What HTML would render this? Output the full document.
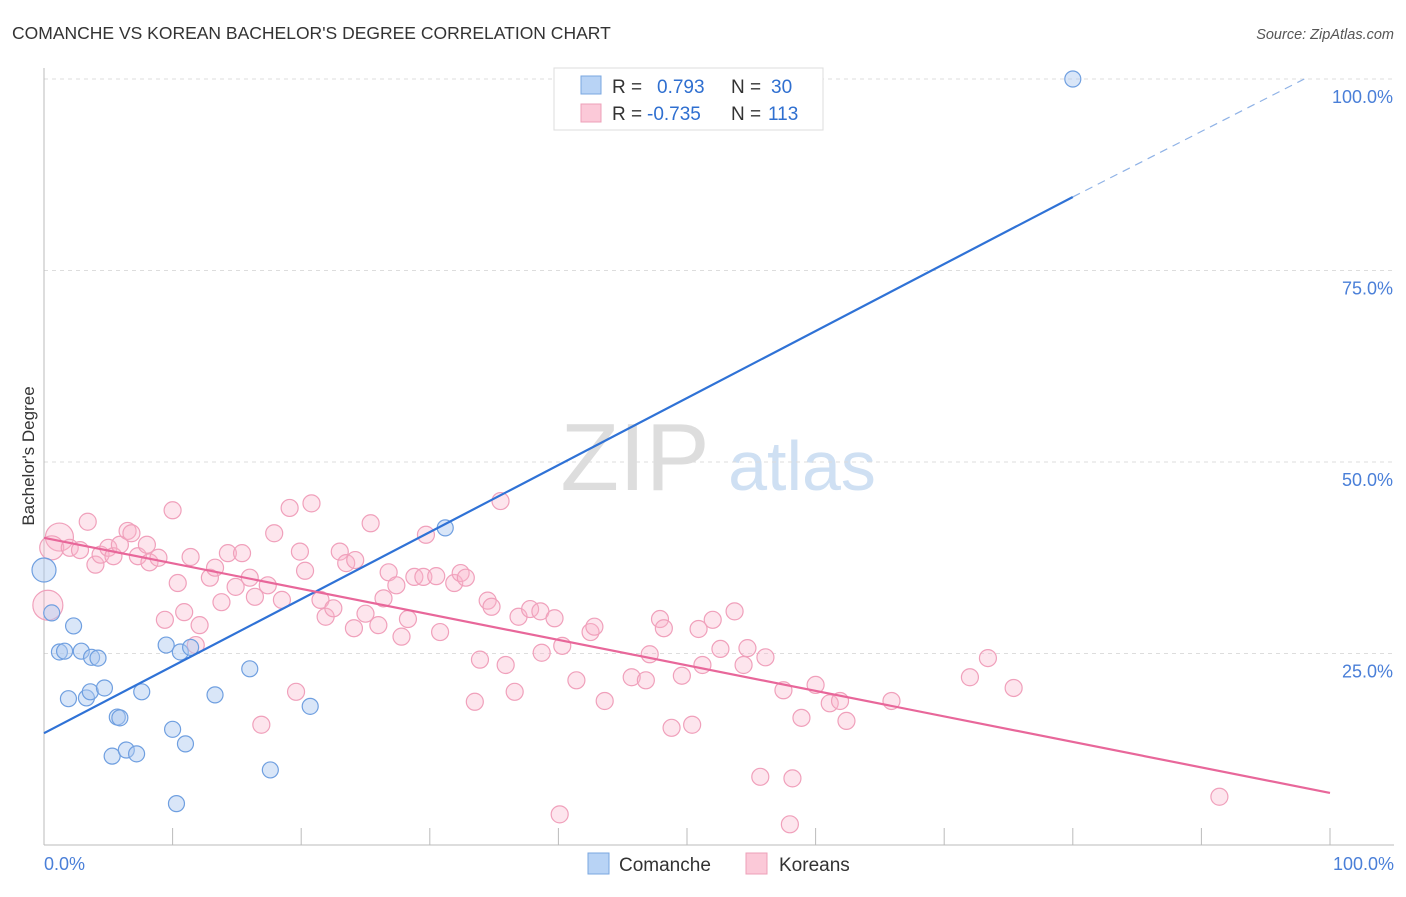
<!DOCTYPE html>
<html><head><meta charset="utf-8"><style>
body{margin:0;background:#fff;font-family:"Liberation Sans",sans-serif;}
svg text{font-family:"Liberation Sans",sans-serif;}
</style></head><body>
<svg id="chart" width="1406" height="892">
<text x="12" y="39" font-size="17.5" fill="#333">COMANCHE VS KOREAN BACHELOR'S DEGREE CORRELATION CHART</text>
<text x="1394" y="39" font-size="14.5" fill="#555" font-style="italic" text-anchor="end">Source: ZipAtlas.com</text>
<g>
<text x="635" y="490" font-size="96" fill="#ddd" font-family="Liberation Serif" text-anchor="middle">ZIP</text>
<text x="802" y="490" font-size="70" fill="#cfe0f3" text-anchor="middle">atlas</text>
</g>
<g id="grid"></g>
<g id="axes"></g>
<g id="marks"></g>
<text transform="translate(34,456) rotate(-90)" font-size="17" fill="#333" text-anchor="middle">Bachelor's Degree</text>
<g>
<rect x="554" y="68" width="269" height="62" fill="#fff" stroke="#ddd"/>
<rect x="581" y="76" width="20" height="18" fill="#b8d3f5" stroke="#7aa7e0"/>
<rect x="581" y="104" width="20" height="18" fill="#fbc9d8" stroke="#eea0b8"/>
<text x="612" y="93" font-size="19" fill="#333">R = <tspan fill="#2f6fd0" x="657">0.793</tspan><tspan fill="#333" x="731">N = </tspan><tspan fill="#2f6fd0" x="771">30</tspan></text>
<text x="612" y="120" font-size="19" fill="#333">R = <tspan fill="#2f6fd0" x="647">-0.735</tspan><tspan fill="#333" x="731">N = </tspan><tspan fill="#2f6fd0" x="768">113</tspan></text>
</g>
<g>
<rect x="588" y="853" width="21" height="21" fill="#b8d3f5" stroke="#7aa7e0"/>
<text x="619" y="871" font-size="19" fill="#333">Comanche</text>
<rect x="746" y="853" width="21" height="21" fill="#fbc9d8" stroke="#eea0b8"/>
<text x="779" y="871" font-size="19" fill="#333">Koreans</text>
</g>
</svg>
<script>
const yTicks=[0,25,50,75,100];
const yTickLabels=["","25.0%","50.0%","75.0%","100.0%"];
const xTicks=[0,10,20,30,40,50,60,70,80,90,100];
const blueX=[0,0.6,1.2,1.6,2.3,2.9,3.7,4.2,1.9,3.3,3.6,4.7,5.7,5.9,7.6,5.3,6.4,7.2,9.5,10.6,11.4,10.0,11.0,10.3,13.3,16.0,17.6,20.7,31.2,80.0];
const blueY=[35.9,30.3,25.2,25.3,28.6,25.3,24.5,24.4,19.1,19.2,20.0,20.5,16.7,16.6,20.0,11.6,12.4,11.9,26.1,25.2,25.8,15.1,13.2,5.4,19.6,23.0,9.8,18.1,41.4,100];
const blueR=[12,8,8,8,8,8,8,8,8,8,8,8,8,8,8,8,8,8,8,8,8,8,8,8,8,8,8,8,8,8];
const pinkX=[1.2,0.6,0.3,3.4,2.0,2.8,4.0,4.4,5.0,5.4,5.9,6.5,6.8,7.3,8.0,8.2,8.9,10.0,10.4,9.4,10.9,11.4,12.1,11.8,12.9,13.3,13.8,14.3,14.9,15.4,16.0,16.4,16.9,17.4,17.9,18.5,19.1,19.6,19.9,20.3,20.8,21.5,21.9,22.5,23.0,23.5,24.2,24.1,25.0,25.4,26.0,26.4,26.8,27.4,27.8,28.3,28.8,29.5,29.7,30.5,30.8,31.9,32.4,32.8,33.5,33.9,34.5,34.8,35.5,35.9,36.6,36.9,37.8,38.6,38.7,39.7,40.1,40.3,41.4,42.5,42.8,43.6,45.7,46.8,47.1,47.9,48.2,48.8,49.6,50.4,50.9,51.2,52.0,52.6,53.7,54.4,54.7,55.7,56.1,57.5,58.2,58.0,58.9,60.0,61.1,61.9,62.4,65.9,72.0,73.4,75.4,91.4];
const pinkY=[40.2,38.8,31.3,42.2,38.8,38.5,36.6,37.9,38.8,37.7,39.2,41.0,40.7,37.7,39.2,36.9,37.5,43.7,34.2,29.4,30.4,37.6,28.7,26.1,34.9,36.2,31.7,38.1,33.7,38.1,34.9,32.4,15.7,33.9,40.7,32.0,44.0,20.0,38.3,35.8,44.6,32.0,29.8,30.9,38.3,36.8,37.2,28.3,30.2,42.0,28.7,32.2,35.6,33.9,27.2,29.5,35.0,35.0,40.5,35.1,27.8,34.2,35.5,34.9,18.7,24.2,31.9,31.1,44.9,23.5,20.0,29.8,30.8,30.5,25.1,29.6,4.0,26.0,21.5,27.8,28.5,18.8,21.9,21.5,24.9,29.5,28.3,15.3,22.1,15.7,28.2,23.5,29.4,25.6,30.5,23.5,25.7,8.9,24.5,20.2,8.7,2.7,16.6,20.9,18.5,18.8,16.2,18.8,21.9,24.4,20.5,6.3];
const pinkBig=[14,12,15];
const blueLineX=[0,80];const blueLineY=[14.6,84.6];const blueDashX=[80,98];const blueDashY=[84.6,100];
const pinkLineX=[0,100];const pinkLineY=[40.1,6.8];
const X=v=>44+v*12.86, Y=v=>845-v*7.66;
const NS="http://www.w3.org/2000/svg";
function mk(tag,attrs,parent){const e=document.createElementNS(NS,tag);for(const k in attrs)e.setAttribute(k,attrs[k]);document.getElementById(parent).appendChild(e);return e;}
yTicks.forEach((t,i)=>{
 if(t>0){const g=mk('line',{x1:44,x2:1394,y1:Y(t),y2:Y(t),stroke:'#ddd','stroke-dasharray':'4,4'},'grid');
 
 
 const l=mk('text',{x:1393,y:Y(t)+24,'font-size':18,fill:'#4a7fd8','text-anchor':'end'},'axes');l.textContent=yTickLabels[i];
 
 }
});
const ax=mk('line',{x1:44,x2:44,y1:68,y2:845,stroke:'#bbb'},'axes');


const bx=mk('line',{x1:44,x2:1394,y1:845,y2:845,stroke:'#bbb'},'axes');


xTicks.forEach(t=>{const l=mk('line',{x1:X(t),x2:X(t),y1:828,y2:845,stroke:'#bbb'},'axes');
 
 });
[[0,"0.0%",'start',44],[100,"100.0%",'end',1394]].forEach(a=>{const l=mk('text',{x:a[3],y:870,'font-size':18,fill:'#4a7fd8','text-anchor':a[2]},'axes');l.textContent=a[1];
 
 });
pinkX.forEach((v,i)=>{const c=mk('circle',{cx:X(v),cy:Y(pinkY[i]),r:pinkBig[i]||8.5,fill:'rgba(248,180,202,0.35)',stroke:'#f0a0bb','stroke-width':1.2},'marks');
 
 });
blueX.forEach((v,i)=>{const c=mk('circle',{cx:X(v),cy:Y(blueY[i]),r:blueR[i],fill:'rgba(170,200,240,0.45)',stroke:'#6f9fe0','stroke-width':1.2},'marks');
 
 });
const bl=mk('line',{x1:X(blueLineX[0]),y1:Y(blueLineY[0]),x2:X(blueLineX[1]),y2:Y(blueLineY[1]),stroke:'#2f72d6','stroke-width':2.2},'marks');


const bd=mk('line',{x1:X(blueDashX[0]),y1:Y(blueDashY[0]),x2:X(blueDashX[1]),y2:Y(blueDashY[1]),stroke:'#8fb2e6','stroke-width':1.2,'stroke-dasharray':'8,6'},'marks');


const pl=mk('line',{x1:X(pinkLineX[0]),y1:Y(pinkLineY[0]),x2:X(pinkLineX[1]),y2:Y(pinkLineY[1]),stroke:'#e8679a','stroke-width':2.2},'marks');


</script>
</body></html>
